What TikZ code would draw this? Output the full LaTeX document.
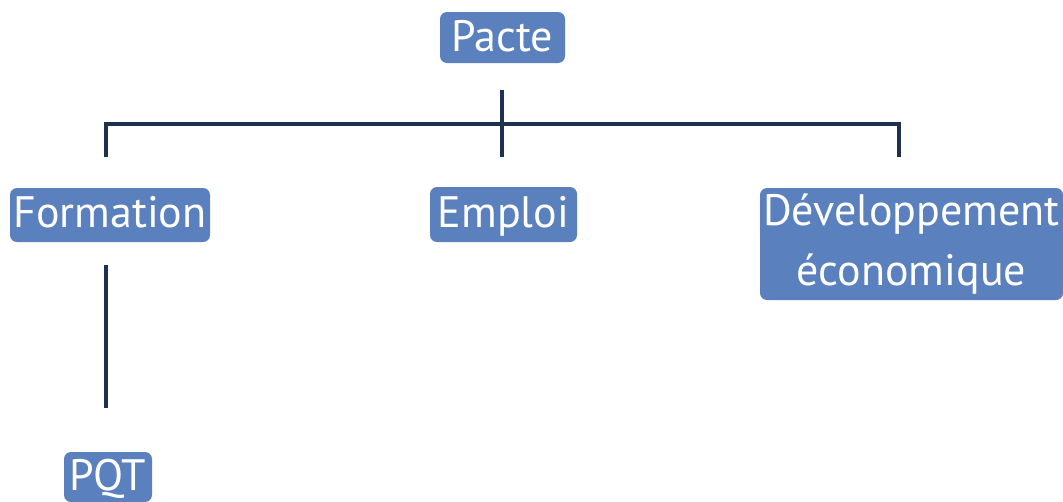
\documentclass[tikz,border=0pt]{standalone}
\usepackage{fontspec}
\setmainfont{PT Sans}
\begin{document}
\begin{tikzpicture}[x=1pt,y=-1pt,
  box/.style={fill=boxblue,text=white,rounded corners=7pt,inner sep=0pt,
    font=\fontsize{44}{60}\selectfont,align=center},
  oneline/.style={box,text height=31pt,text depth=6pt},
  link/.style={draw=linknavy,line width=3.5pt}]
\definecolor{boxblue}{HTML}{5B80BE}
\definecolor{linknavy}{HTML}{1F3150}
\useasboundingbox (0,0) rectangle (1063,501);
% boxes
\node[oneline,text depth=3pt,minimum width=125pt,minimum height=51pt] (pacte) at (502.5,37.5) {Pacte};
\node[oneline,minimum width=200pt,minimum height=54pt] (formation) at (110,215) {Formation};
\node[oneline,minimum width=147pt,minimum height=55pt] (emploi) at (503.5,214.5) {Emploi};
\node[box,minimum width=303pt,minimum height=112pt] (dev) at (911.5,244) {Développement\\économique};
\node[oneline,text depth=4pt,minimum width=88pt,minimum height=50pt] (pqt) at (108,477) {PQT};
% connector ends
\coordinate (ptop) at (502,90);
\coordinate (hub) at (502,124);
\coordinate (left) at (106,124);
\coordinate (right) at (899,124);
\coordinate (fdrop) at (106,157);
\coordinate (edrop) at (502,157);
\coordinate (ddrop) at (899,157);
\coordinate (fbot) at (106,265);
\coordinate (qtop) at (106,408);
% connectors
\draw[link] (ptop) -- (hub) -- (edrop);
\draw[link] (fdrop) -- (left) -- (hub) -- (right) -- (ddrop);
\draw[link] (fbot) -- (qtop);
\end{tikzpicture}
\end{document}
